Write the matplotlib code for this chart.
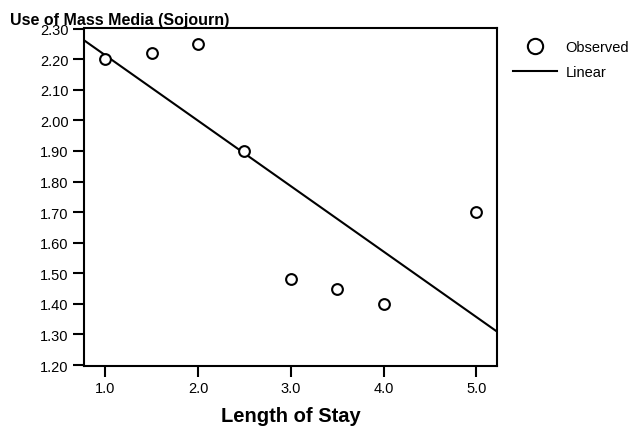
import numpy as np
import matplotlib
matplotlib.use("Agg")
import matplotlib.pyplot as plt
from matplotlib.lines import Line2D

plt.rcParams['font.family'] = ['Liberation Sans', 'DejaVu Sans']

length_of_stay = [1.0, 1.5, 2.0, 2.5, 3.0, 3.5, 4.0, 5.0]
mass_media_use = [2.20, 2.22, 2.25, 1.90, 1.48, 1.45, 1.40, 1.70]
x_ticks = [1.0, 2.0, 3.0, 4.0, 5.0]
y_ticks = [1.20, 1.30, 1.40, 1.50, 1.60, 1.70, 1.80, 1.90, 2.00, 2.10, 2.20, 2.30]

fig = plt.figure(figsize=(6.36, 4.27), dpi=100)
ax = fig.add_axes([84/636, 1-367/427, (497-84)/636, (367-29)/427])

xlim = (0.77, 5.222)
ax.set_xlim(*xlim)
ax.set_ylim(1.197, 2.302)

slope, intercept = np.polyfit(length_of_stay, mass_media_use, 1)
xs = np.array(xlim)
ax.plot(xs, intercept + slope * xs, color='black', lw=1.5, clip_on=True)
ax.scatter(length_of_stay, mass_media_use, s=60, facecolors='white',
           edgecolors='black', linewidths=1.5, zorder=3)

ax.set_xticks(x_ticks)
ax.set_xticklabels([f"{v:.1f}" for v in x_ticks])
ax.set_yticks(y_ticks)
ax.set_yticklabels([f"{v:.2f}" for v in y_ticks])
ax.tick_params(direction='out', length=8, width=1.5, labelsize=10.5, pad=3)
for s in ax.spines.values():
    s.set_linewidth(1.5)

ax.set_xlabel("Length of Stay", fontsize=14.5, fontweight='bold', labelpad=8)
fig.text(10/636, 1-25/427, "Use of Mass Media (Sojourn)", fontsize=11.5,
         fontweight='bold', ha='left', va='baseline')

handles = [Line2D([], [], marker='o', ls='none', markersize=11,
                  markerfacecolor='white', markeredgecolor='black', markeredgewidth=1.5),
           Line2D([], [], color='black', lw=1.5)]
leg = fig.legend(handles, ["Observed", "Linear"], loc='upper left',
                 bbox_to_anchor=(513/636, 1-41/427), frameon=False, fontsize=10.5,
                 handlelength=3.0, handletextpad=0.6, labelspacing=0.75, borderpad=0,
                 borderaxespad=0)

fig.savefig("out.png", dpi=100)
